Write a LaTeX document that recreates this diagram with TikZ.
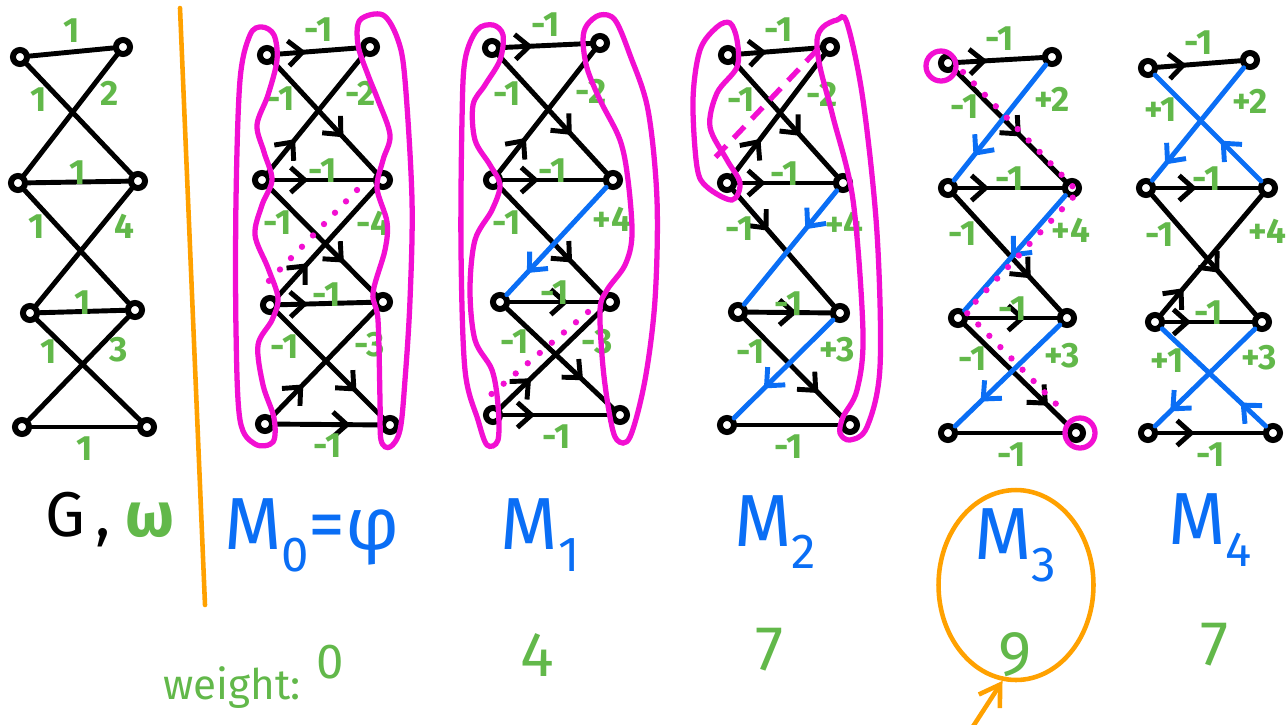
\documentclass[tikz,border=0pt]{standalone}
\usepackage{fontspec}
\setsansfont{Fira Sans}
\usepackage{tikz}
\usetikzlibrary{arrows.meta,positioning,calc,decorations.markings,shapes.geometric}
\definecolor{WeightGreen}{HTML}{62B84A}
\definecolor{MatchBlue}{HTML}{0A6EF5}
\definecolor{HullPink}{HTML}{F20FD2}
\definecolor{MarkOrange}{HTML}{FFA100}
\newcommand{\msub}[1]{\raisebox{-0.3em}{\fontsize{28}{28}\selectfont #1}}

\begin{document}
\begin{tikzpicture}[
    x=0.02cm, y=-0.02cm,
    vtx/.style={circle, draw=black, line width=3.4pt, fill=white, inner sep=0pt, minimum size=8pt},
    edge/.style={draw=black, line width=2.8pt, line cap=round},
    mat/.style={edge, draw=MatchBlue},
    fwd/.style={postaction={decorate}, decoration={markings, mark=at position #1 with {\arrow{Straight Barb[length=2.8mm, width=5mm]}}}},
    bwd/.style={postaction={decorate}, decoration={markings, mark=at position #1 with {\arrowreversed{Straight Barb[length=2.8mm, width=5mm]}}}},
    wt/.style={text=WeightGreen, font=\sffamily\bfseries\fontsize{20}{21}\selectfont, inner sep=1pt},
    mlabel/.style={text=MatchBlue, font=\sffamily\fontsize{42}{44}\selectfont, inner sep=0pt},
    wsum/.style={text=WeightGreen, font=\sffamily\fontsize{36}{38}\selectfont, inner sep=0pt},
    hull/.style={draw=HullPink, line width=3pt},
    trail/.style={draw=HullPink, line width=3.6pt, line cap=round, dash pattern=on 0pt off 9pt}
]
\useasboundingbox (0,0) rectangle (1288,724);

% vertices: left column l1..l4, right column r1..r4
\node[vtx] (gl1) at (20,57) {};   \node[vtx] (gr1) at (123,47) {};
\node[vtx] (gl2) at (18,183) {};  \node[vtx] (gr2) at (138,181) {};
\node[vtx] (gl3) at (30,313) {};  \node[vtx] (gr3) at (135,310) {};
\node[vtx] (gl4) at (22,427) {};  \node[vtx] (gr4) at (147,427) {};

\node[vtx] (m0l1) at (267,55) {};  \node[vtx] (m0r1) at (370,47) {};
\node[vtx] (m0l2) at (262,180) {}; \node[vtx] (m0r2) at (383,180) {};
\node[vtx] (m0l3) at (270,305) {}; \node[vtx] (m0r3) at (383,302) {};
\node[vtx] (m0l4) at (265,424) {}; \node[vtx] (m0r4) at (390,425) {};

\node[vtx] (m1l1) at (492,48) {};  \node[vtx] (m1r1) at (600,43) {};
\node[vtx] (m1l2) at (493,180) {}; \node[vtx] (m1r2) at (613,180) {};
\node[vtx] (m1l3) at (500,302) {}; \node[vtx] (m1r3) at (610,302) {};
\node[vtx] (m1l4) at (493,415) {}; \node[vtx] (m1r4) at (620,415) {};

\node[vtx] (m2l1) at (728,55) {};  \node[vtx] (m2r1) at (830,47) {};
\node[vtx] (m2l2) at (727,183) {}; \node[vtx] (m2r2) at (843,183) {};
\node[vtx] (m2l3) at (738,312) {}; \node[vtx] (m2r3) at (840,313) {};
\node[vtx] (m2l4) at (727,425) {}; \node[vtx] (m2r4) at (850,425) {};

\node[vtx] (m3l1) at (948,63) {};  \node[vtx] (m3r1) at (1052,57) {};
\node[vtx] (m3l2) at (948,188) {}; \node[vtx] (m3r2) at (1072,188) {};
\node[vtx] (m3l3) at (958,318) {}; \node[vtx] (m3r3) at (1067,318) {};
\node[vtx] (m3l4) at (948,433) {}; \node[vtx] (m3r4) at (1076,433) {};

\node[vtx] (m4l1) at (1148,68) {};  \node[vtx] (m4r1) at (1250,60) {};
\node[vtx] (m4l2) at (1146,188) {}; \node[vtx] (m4r2) at (1268,188) {};
\node[vtx] (m4l3) at (1155,322) {}; \node[vtx] (m4r3) at (1262,322) {};
\node[vtx] (m4l4) at (1148,433) {}; \node[vtx] (m4r4) at (1273,433) {};

% G with weights
\draw[edge] (gl1) -- node[wt, above=3pt] {1} (gr1);
\draw[edge] (gl1) -- node[wt, pos=0.32, left=5pt] {1} (gr2);
\draw[edge] (gr1) -- node[wt, pos=0.32, right=5pt] {2} (gl2);
\draw[edge] (gl2) -- node[wt, above=-4pt] {1} (gr2);
\draw[edge] (gl2) -- node[wt, pos=0.32, left=5pt] {1} (gr3);
\draw[edge] (gr2) -- node[wt, pos=0.32, right=5pt] {4} (gl3);
\draw[edge] (gl3) -- node[wt, above=-4pt] {1} (gr3);
\draw[edge] (gl3) -- node[wt, pos=0.32, left=5pt] {1} (gr4);
\draw[edge] (gr3) -- node[wt, pos=0.32, right=5pt] {3} (gl4);
\draw[edge] (gl4) -- node[wt, below=3pt] {1} (gr4);

% M0
\draw[edge, fwd=0.35] (m0l1) -- node[wt, above=3pt] {-1} (m0r1);
\draw[edge, fwd=0.68] (m0l1) -- node[wt, pos=0.33, left=5pt] {-1} (m0r2);
\draw[edge, bwd=0.72] (m0r1) -- node[wt, pos=0.33, right=5pt] {-2} (m0l2);
\draw[edge, fwd=0.36] (m0l2) -- node[wt, above=-4pt] {-1} (m0r2);
\draw[edge, fwd=0.7] (m0l2) -- node[wt, pos=0.33, left=5pt] {-1} (m0r3);
\draw[edge, bwd=0.69] (m0r2) -- node[wt, pos=0.33, right=5pt] {-4} (m0l3);
\draw[edge, fwd=0.3] (m0l3) -- node[wt, above=-4pt] {-1} (m0r3);
\draw[edge, fwd=0.75] (m0l3) -- node[wt, pos=0.33, left=5pt] {-1} (m0r4);
\draw[edge, bwd=0.7] (m0r3) -- node[wt, pos=0.33, right=5pt] {-3} (m0l4);
\draw[edge, fwd=0.72] (m0l4) -- node[wt, below=3pt] {-1} (m0r4);

% M1
\draw[edge, fwd=0.35] (m1l1) -- node[wt, above=3pt] {-1} (m1r1);
\draw[edge, fwd=0.68] (m1l1) -- node[wt, pos=0.33, left=5pt] {-1} (m1r2);
\draw[edge, bwd=0.72] (m1r1) -- node[wt, pos=0.33, right=5pt] {-2} (m1l2);
\draw[edge, fwd=0.36] (m1l2) -- node[wt, above=-4pt] {-1} (m1r2);
\draw[edge, fwd=0.7] (m1l2) -- node[wt, pos=0.33, left=5pt] {-1} (m1r3);
\draw[mat, fwd=0.8] (m1r2) -- node[wt, pos=0.3, right=7pt] {+4} (m1l3);
\draw[edge, fwd=0.65] (m1l3) -- node[wt, above=-4pt] {-1} (m1r3);
\draw[edge, fwd=0.72] (m1l3) -- node[wt, pos=0.33, left=5pt] {-1} (m1r4);
\draw[edge, bwd=0.7] (m1r3) -- node[wt, pos=0.33, right=5pt] {-3} (m1l4);
\draw[edge, fwd=0.3] (m1l4) -- node[wt, below=3pt] {-1} (m1r4);

% M2
\draw[edge, fwd=0.35] (m2l1) -- node[wt, above=3pt] {-1} (m2r1);
\draw[edge, fwd=0.65] (m2l1) -- node[wt, pos=0.33, left=5pt] {-1} (m2r2);
\draw[edge, bwd=0.7] (m2r1) -- node[wt, pos=0.33, right=5pt] {-2} (m2l2);
\draw[edge, fwd=0.3] (m2l2) -- node[wt, above=-4pt] {-1} (m2r2);
\draw[edge, fwd=0.35] (m2l2) -- node[wt, pos=0.33, left=5pt] {-1} (m2r3);
\draw[mat, fwd=0.34] (m2r2) -- node[wt, pos=0.3, right=7pt] {+4} (m2l3);
\draw[edge, fwd=0.6] (m2l3) -- node[wt, above=-4pt] {-1} (m2r3);
\draw[edge, fwd=0.75] (m2l3) -- node[wt, pos=0.33, left=5pt] {-1} (m2r4);
\draw[mat, fwd=0.7] (m2r3) -- node[wt, pos=0.3, right=7pt] {+3} (m2l4);
\draw[edge] (m2l4) -- node[wt, below=3pt] {-1} (m2r4);

% M3
\draw[edge, fwd=0.35] (m3l1) -- node[wt, above=3pt] {-1} (m3r1);
\draw[edge, fwd=0.6] (m3l1) -- node[wt, pos=0.33, left=5pt] {-1} (m3r2);
\draw[mat, fwd=0.79] (m3r1) -- node[wt, pos=0.3, right=7pt] {+2} (m3l2);
\draw[edge, fwd=0.3] (m3l2) -- node[wt, above=-4pt] {-1} (m3r2);
\draw[edge, fwd=0.72] (m3l2) -- node[wt, pos=0.33, left=5pt] {-1} (m3r3);
\draw[mat, fwd=0.54] (m3r2) -- node[wt, pos=0.3, right=7pt] {+4} (m3l3);
\draw[edge, fwd=0.65] (m3l3) -- node[wt, above=-4pt] {-1} (m3r3);
\draw[edge, fwd=0.8] (m3l3) -- node[wt, pos=0.33, left=5pt] {-1} (m3r4);
\draw[mat, fwd=0.76] (m3r3) -- node[wt, pos=0.3, right=7pt] {+3} (m3l4);
\draw[edge] (m3l4) -- node[wt, below=3pt] {-1} (m3r4);

% M4
\draw[edge, fwd=0.35] (m4l1) -- node[wt, above=3pt] {-1} (m4r1);
\draw[mat, bwd=0.62] (m4l1) -- node[wt, pos=0.33, left=5pt] {+1} (m4r2);
\draw[mat, fwd=0.86] (m4r1) -- node[wt, pos=0.3, right=7pt] {+2} (m4l2);
\draw[edge, fwd=0.4] (m4l2) -- node[wt, above=-4pt] {-1} (m4r2);
\draw[edge, fwd=0.65] (m4l2) -- node[wt, pos=0.33, left=5pt] {-1} (m4r3);
\draw[edge, bwd=0.78] (m4r2) -- node[wt, pos=0.3, right=7pt] {+4} (m4l3);
\draw[edge, fwd=0.3] (m4l3) -- node[wt, above=-4pt] {-1} (m4r3);
\draw[mat, bwd=0.76] (m4l3) -- node[wt, pos=0.33, left=5pt] {+1} (m4r4);
\draw[mat, fwd=0.85] (m4r3) -- node[wt, pos=0.3, right=7pt] {+3} (m4l4);
\draw[edge, fwd=0.35] (m4l4) -- node[wt, below=3pt] {-1} (m4r4);

% free vertices and shortest paths
\draw[hull] plot[smooth cycle, tension=0.55] coordinates {(262,27) (274,35) (277,60) (268,95) (257,125) (264,152) (272,180) (262,205) (255,235) (268,268) (278,298) (272,320) (258,345) (263,385) (274,418) (273,442) (255,444) (240,420) (236,330) (236,200) (240,80) (250,35)};
\draw[hull] plot[smooth cycle, tension=0.55] coordinates {(360,20) (383,15) (398,40) (405,80) (412,200) (410,300) (405,380) (400,430) (390,447) (381,440) (380,400) (378,320) (373,293) (385,250) (387,222) (377,188) (383,160) (390,135) (378,100) (368,75) (358,45)};
\draw[trail] ($(m0r2)+(-26,10)$) -- ($(m0l3)+(-7,-18)$);

\draw[hull] plot[smooth cycle, tension=0.55] coordinates {(477,30) (493,25) (503,35) (500,60) (485,85) (473,105) (475,140) (490,165) (500,185) (492,210) (475,240) (470,290) (475,340) (492,370) (498,405) (498,440) (487,445) (478,420) (465,370) (461,250) (462,120) (465,60)};
\draw[hull] plot[smooth cycle, tension=0.55] coordinates {(587,25) (600,15) (615,20) (630,55) (648,110) (657,200) (655,300) (645,380) (630,437) (617,440) (610,417) (603,367) (600,310) (607,290) (625,265) (632,235) (628,180) (620,140) (600,100) (587,68) (583,40)};
\draw[trail] ($(m1r3)+(-22,10)$) -- ($(m1l4)+(-5,-18)$);

\draw[hull] plot[smooth cycle, tension=0.55] coordinates {(717,27) (730,23) (737,40) (737,67) (717,93) (710,127) (727,160) (740,183) (732,200) (707,187) (697,167) (693,100) (700,50)};
\draw[hull] plot[smooth cycle, tension=0.55] coordinates {(823,27) (837,20) (847,23) (863,100) (877,233) (880,367) (867,427) (850,440) (840,433) (843,417) (857,390) (863,333) (853,200) (833,117) (820,67) (817,40)};
\draw[hull, dash pattern=on 9pt off 6pt] ($(m2r1)+(-13,3)$) -- ($(m2l2)+(-17,-20)$);

\draw[hull] ($(m3l1)+(-7,3)$) circle[radius=0.3cm];
\draw[hull] ($(m3r4)+(4,0)$) circle[radius=0.3cm];
\draw[trail] ($(m3l1)+(15,9)$) -- ($(m3r2)+(6,4)$) -- ($(m3l3)+(8,-6)$) -- ($(m3r4)+(-14,-23)$);

% divider
\draw[MarkOrange, line width=2.6pt, line cap=round] (180,8) -- (205,605);

% names and total weights
\node[font=\sffamily\fontsize{36}{38}\selectfont, inner sep=0pt] (gname) at (78,520) {G\,,};
\node[text=WeightGreen, font=\sffamily\bfseries\fontsize{36}{38}\selectfont, inner sep=0pt, right=8pt of gname] (omega) {ω};
\node[mlabel] (m0name) at (312,535) {M\msub{0}=φ};
\node[mlabel] (m1name) at (540,535) {M\msub{1}};
\node[mlabel] (m2name) at (775,532) {M\msub{2}};
\node[mlabel] (m3name) at (1015,545) {M\msub{3}};
\node[mlabel] (m4name) at (1210,530) {M\msub{4}};

\node[text=WeightGreen, font=\sffamily\fontsize{24}{26}\selectfont, inner sep=0pt] (wtitle) at (232,688) {weight:};
\node[wsum, font=\sffamily\fontsize{28}{30}\selectfont] (w0) at (330,662) {0};
\node[wsum] (w1) at (537,655) {4};
\node[wsum] (w2) at (770,650) {7};
\node[wsum] (w3) at (1015,655) {9};
\node[wsum] (w4) at (1215,645) {7};

% best matching
\node[ellipse, draw=MarkOrange, line width=2.6pt, minimum width=3.1cm, minimum height=3.8cm] (best) at (1016,585) {};
\coordinate (hint) at (972,728);
\draw[MarkOrange, line width=2.6pt, -{Straight Barb[length=4mm, width=5mm]}] (hint) -- (best.262);
\end{tikzpicture}
\end{document}
